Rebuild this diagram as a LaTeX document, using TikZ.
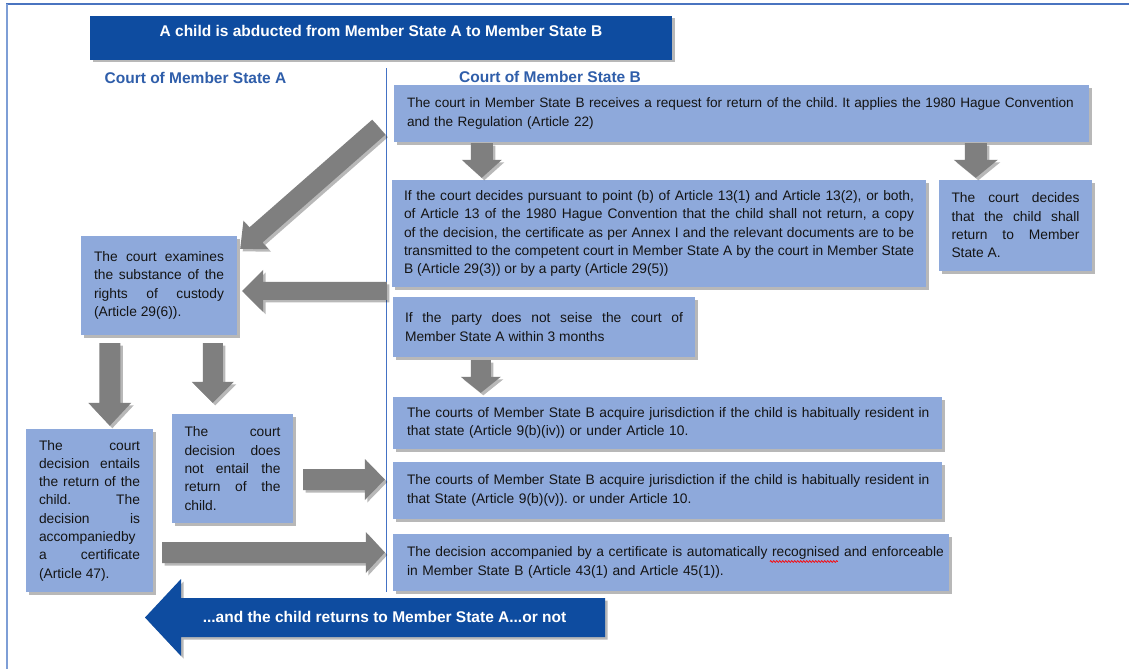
\documentclass[tikz,border=0pt]{standalone}
\usepackage{fontspec}
\setmainfont{Liberation Sans}
\usetikzlibrary{calc,shadows,decorations.pathmorphing}

\definecolor{boxfill}{RGB}{142,169,219}
\definecolor{arrowgray}{RGB}{127,127,127}
\definecolor{darkblue}{RGB}{14,76,160}
\definecolor{headblue}{RGB}{47,94,170}
\definecolor{divblue}{RGB}{68,114,196}
\definecolor{frametop}{RGB}{74,116,192}
\definecolor{frameleft}{RGB}{126,158,214}
\definecolor{txt}{RGB}{20,20,20}

% block arrow: #1 options, #2 from, #3 to, #4 shaft half width, #5 head half width, #6 head length
\newcommand\blockarrow[6][]{%
  \coordinate (bah) at ($(#3)!#6!(#2)$);
  \fill[#1] ($(#2)!#4!90:(#3)$) -- ($(bah)!#4!90:(#3)$) -- ($(bah)!#5!90:(#3)$) -- (#3)
    -- ($(bah)!#5!-90:(#3)$) -- ($(bah)!#4!-90:(#3)$) -- ($(#2)!#4!-90:(#3)$) -- cycle;
}

\begin{document}
\frenchspacing
\begin{tikzpicture}[x=1pt,y=-1pt,
  shadowed/.style={drop shadow={shadow xshift=2.5pt, shadow yshift=-2.5pt, opacity=0.28, fill=black}},
  box/.style={fill=boxfill, inner sep=0pt, text=txt, font=\fontsize{13.8}{18.3}\selectfont, shadowed},
  colhead/.style={text=headblue, font=\fontsize{15.5}{18}\selectfont\bfseries, anchor=base},
  whitetext/.style={text=white, font=\fontsize{15.5}{18}\selectfont\bfseries, anchor=base},
  garrow/.style={fill=arrowgray, shadowed},
  barrow/.style={fill=darkblue, shadowed},
  squiggle/.style={draw=red, line width=0.7pt, decorate, decoration={snake, amplitude=0.8pt, segment length=3pt}}
]
\useasboundingbox (0,0) rectangle (1129,669);
\fill[white] (0,0) rectangle (1129,669);

% frame
\draw[frametop, line width=2pt] (6,4) -- (1129,4);
\draw[frameleft, line width=2pt] (7,4) -- (7,669);

% title banner
\node[fill=darkblue, minimum width=582pt, minimum height=44pt, inner sep=0pt, shadowed] (title) at (381,38) {};
\node[whitetext] (titletext) at (381,37) {A child is abducted from Member State A to Member State B};

% column headers
\node[colhead] (headA) at (195.5,83) {Court of Member State A};
\node[colhead] (headB) at (550,82) {Court of Member State B};

% divider
\draw[divblue, line width=1pt] (386,68) -- (386,592);

% boxes, Member State B
\node[box, font=\fontsize{13.6}{18.3}\selectfont, minimum width=695pt, minimum height=57pt, text width=669pt, align=left] (b1) at (741.5,113.5)
  {\mbox{The court in Member State B receives a request for return of the child. It applies the 1980 Hague Convention}\\\mbox{and the Regulation (Article 22)}};
\node[box, minimum width=534pt, minimum height=107pt, text width=510pt, align=justify] (b2) at (659,233.5)
  {If the court decides pursuant to point (b) of Article 13(1) and Article 13(2), or both,\linebreak
   of Article 13 of the 1980 Hague Convention that the child shall not return, a copy\linebreak
   of the decision, the certificate as per Annex I and the relevant documents are to be\linebreak
   transmitted to the competent court in Member State A by the court in Member State\linebreak
   B (Article 29(3)) or by a party (Article 29(5))};
\node[box, minimum width=153pt, minimum height=91pt, text width=128pt, align=justify] (b3) at (1015.5,225.5)
  {The court decides\linebreak that the child shall\linebreak return to Member\linebreak State A.};
\node[box, minimum width=302pt, minimum height=60pt, text width=278pt, align=justify] (b4) at (544,327)
  {If the party does not seise the court of\linebreak Member State A within 3 months};
\node[box, minimum width=549pt, minimum height=52pt, text width=521pt, align=left] (b5) at (667.5,423)
  {\mbox{The courts of Member State B acquire jurisdiction if the child is habitually resident in}\\\mbox{that state (Article 9(b)(iv)) or under Article 10.}};
\node[box, minimum width=549pt, minimum height=57pt, text width=521pt, align=left] (b6) at (667.5,490.5)
  {\mbox{The courts of Member State B acquire jurisdiction if the child is habitually resident in}\\\mbox{that State (Article 9(b)(v)). or under Article 10.}};
\node[box, minimum width=556pt, minimum height=57pt, text width=528pt, align=left] (b7) at (671,562.5)
  {\mbox{The decision accompanied by a certificate is automatically recognised and enforceable}\\\mbox{in Member State B (Article 43(1) and Article 45(1)).}};
\draw[squiggle] ($(b7.west)+(377,-1)$) -- ++(68,0);

% boxes, Member State A
\node[box, minimum width=156pt, minimum height=99pt, text width=130pt, align=justify] (a1) at (159,285.5)
  {The court examines\linebreak the substance of the\linebreak rights of custody\linebreak (Article 29(6)).};
\node[box, minimum width=127pt, minimum height=163pt, text width=101pt, align=justify] (a2) at (89.5,510.5)
  {The court\linebreak decision entails\linebreak the return of the\linebreak child. The\linebreak decision is\linebreak accompaniedby\linebreak a certificate\linebreak (Article 47).};
\node[box, minimum width=121pt, minimum height=109pt, text width=96pt, align=justify] (a3) at (232.5,468.5)
  {The court\linebreak decision does\linebreak not entail the\linebreak return of the\linebreak child.};

% arrow end points
\coordinate (a1s) at ($(b1.south west)+(88,1)$);
\coordinate (a1e) at ($(b2.north west)+(90,-2)$);
\coordinate (a2s) at ($(b1.south west)+(582,1)$);
\coordinate (a2e) at ($(b3.north west)+(37,-2)$);
\coordinate (a3s) at ($(b1.south west)+(-15,-15)$);
\coordinate (a3e) at ($(a1.north east)+(3,13)$);
\coordinate (a4s) at ($(b4.north west)+(-6,-6)$);
\coordinate (a4e) at ($(a1.east)+(5,5.5)$);
\coordinate (a5s) at ($(b4.south west)+(88,3)$);
\coordinate (a5e) at ($(b5.north west)+(88,-4)$);
\coordinate (a6s) at ($(a1.south west)+(29,8)$);
\coordinate (a6e) at ($(a2.north west)+(84,-3)$);
\coordinate (a7s) at ($(a1.south west)+(132,8)$);
\coordinate (a7e) at ($(a3.north west)+(41,-11)$);
\coordinate (a8s) at ($(a3.east)+(10,11)$);
\coordinate (a8e) at ($(b6.west)+(-8,-11)$);
\coordinate (a9s) at ($(a2.east)+(9,42)$);
\coordinate (a9e) at ($(b7.west)+(-8,-10)$);

% gray block arrows
\blockarrow[garrow]{a1s}{a1e}{11pt}{20pt}{18pt}
\blockarrow[garrow]{a2s}{a2e}{11pt}{22pt}{18pt}
\blockarrow[garrow]{a3s}{a3e}{10pt}{19pt}{21pt}
\blockarrow[garrow]{a4s}{a4e}{9pt}{21pt}{21pt}
\blockarrow[garrow]{a5s}{a5e}{10pt}{20pt}{16pt}
\blockarrow[garrow]{a6s}{a6e}{10.5pt}{21.5pt}{23pt}
\blockarrow[garrow]{a7s}{a7e}{10pt}{21pt}{21pt}
\blockarrow[garrow]{a8s}{a8e}{10.5pt}{20.5pt}{20pt}
\blockarrow[garrow]{a9s}{a9e}{10.5pt}{20.5pt}{19pt}

% bottom blue arrow
\coordinate (rets) at (605,617.5);
\coordinate (rete) at (145,617.5);
\blockarrow[barrow]{rets}{rete}{19.5pt}{38.5pt}{36pt}
\node[whitetext] (rettext) at (384.5,622) {...and the child returns to Member State A...or not};
\end{tikzpicture}
\end{document}
